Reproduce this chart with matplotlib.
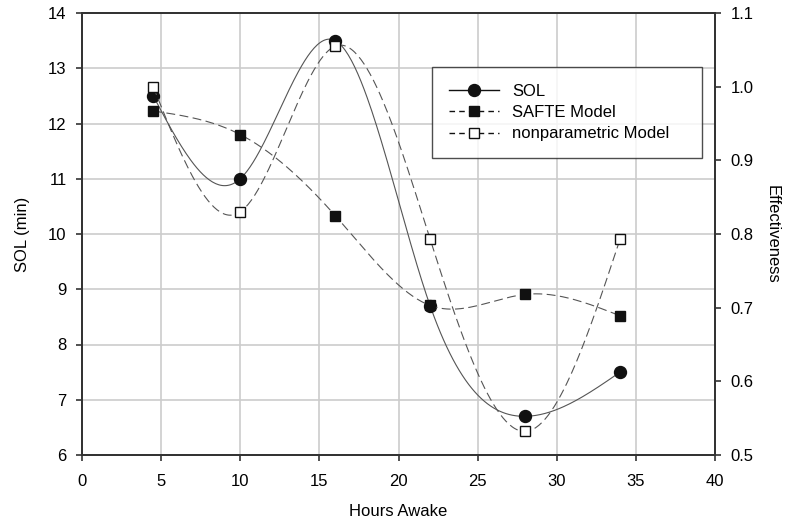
import numpy as np
import matplotlib
matplotlib.use('Agg')
import matplotlib.pyplot as plt
from matplotlib.lines import Line2D

plt.rcParams['font.family'] = ['Liberation Sans', 'DejaVu Sans']

hours = [4.5, 10, 16, 22, 28, 34]
sol = [12.5, 11.0, 13.5, 8.7, 6.7, 7.5]
safte = [0.967, 0.935, 0.825, 0.703, 0.718, 0.689]
nonparam = [1.0, 0.83, 1.055, 0.793, 0.532, 0.793]


def spline(x, y, n=300):
    # natural cubic spline, only used to draw the smooth connecting line
    x = np.asarray(x, float)
    y = np.asarray(y, float)
    k = len(x)
    h = np.diff(x)
    A = np.zeros((k, k))
    b = np.zeros(k)
    A[0, 0] = A[-1, -1] = 1
    for i in range(1, k - 1):
        A[i, i - 1] = h[i - 1]
        A[i, i] = 2 * (h[i - 1] + h[i])
        A[i, i + 1] = h[i]
        b[i] = 6 * ((y[i + 1] - y[i]) / h[i] - (y[i] - y[i - 1]) / h[i - 1])
    m = np.linalg.solve(A, b)
    xs = np.linspace(x[0], x[-1], n)
    idx = np.clip(np.searchsorted(x, xs) - 1, 0, k - 2)
    x0, x1 = x[idx], x[idx + 1]
    hh = x1 - x0
    t0, t1 = x1 - xs, xs - x0
    ys = (m[idx] * t0**3 + m[idx + 1] * t1**3) / (6 * hh) \
        + (y[idx] / hh - m[idx] * hh / 6) * t0 \
        + (y[idx + 1] / hh - m[idx + 1] * hh / 6) * t1
    return xs, ys


fig = plt.figure(figsize=(7.89, 5.29), dpi=100)
ax = fig.add_axes([82 / 789, 74 / 529, 633 / 789, 442 / 529])
ax2 = ax.twinx()

ax.set_xlim(0, 40)
ax.set_ylim(6, 14)
ax2.set_ylim(0.5, 1.1)
ax.set_xticks(range(0, 41, 5))
ax.set_yticks(range(6, 15))
ax2.set_yticks(np.arange(0.5, 1.11, 0.1))
ax2.set_yticklabels(['0.5', '0.6', '0.7', '0.8', '0.9', '1.0', '1.1'])
ax.grid(True, color='#cccccc', linewidth=1.2)
ax.set_axisbelow(True)

lc = '#555555'
xs, ys = spline(hours, sol)
ax.plot(xs, ys, color=lc, lw=0.8)
ax.plot(hours, sol, 'o', color='#111111', ms=8.6)
xs, ys = spline(hours, safte)
ax2.plot(xs, ys, color=lc, lw=0.8, dashes=(8, 4))
ax2.plot(hours, safte, 's', color='#111111', ms=7.2)
xs, ys = spline(hours, nonparam)
ax2.plot(xs, ys, color=lc, lw=0.8, dashes=(8, 4))
ax2.plot(hours, nonparam, 's', mfc='white', mec='#111111', ms=7.2, mew=1)

handles = [
    Line2D([], [], color='#111111', lw=1.0, marker='o', ms=8.6),
    Line2D([], [], color='#111111', lw=1.0, dashes=(4, 3), marker='s', ms=7.2),
    Line2D([], [], color='#111111', lw=1.0, dashes=(4, 3), marker='s', ms=7.2,
           mfc='white', mec='#111111'),
]
leg = ax2.legend(handles, ['SOL', 'SAFTE Model', 'nonparametric Model'],
                 loc='upper left',
                 bbox_to_anchor=(432 / 789, 1 - 155 / 529, 270 / 789, 88 / 529),
                 bbox_transform=fig.transFigure, mode='expand', fontsize=12,
                 frameon=True, fancybox=False, edgecolor='#222222',
                 borderpad=1.0, handlelength=3.0, labelspacing=0.38,
                 borderaxespad=0)
leg.get_frame().set_linewidth(1.0)

for a in (ax, ax2):
    a.tick_params(direction='out', labelsize=12, color='#333333', width=1.2,
                  length=4.5, pad=6.5)
    for s in a.spines.values():
        s.set_color('#333333')
        s.set_linewidth(1.3)
ax.tick_params(axis='x', pad=9)

ax.set_xlabel('Hours Awake', fontsize=12, labelpad=11)
ax.set_ylabel('SOL (min)', fontsize=12, labelpad=13)
ax2.set_ylabel('Effectiveness', fontsize=12, rotation=270, labelpad=19)

fig.savefig('out.png', dpi=100)
